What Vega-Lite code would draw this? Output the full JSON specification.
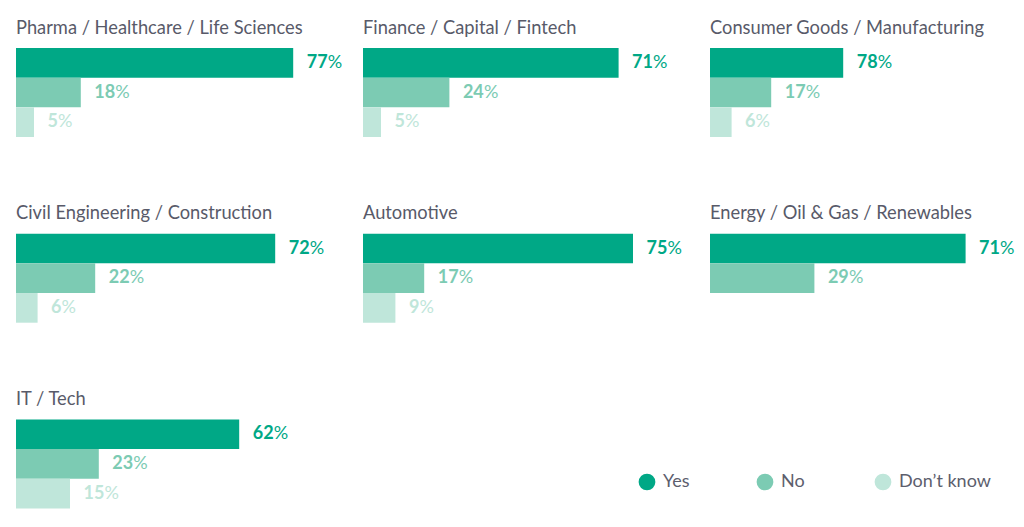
{
  "$schema": "https://vega.github.io/schema/vega-lite/v6.json",
  "background": "white",
  "padding": {"left": 16, "top": 18, "right": 0, "bottom": 0},
  "bounds": "flush",
  "config": {"view": {"stroke": null}, "font": "Lato"},
  "data": {
    "values": [
      {"sector": "Pharma / Healthcare / Life Sciences", "answer": "Yes", "pct": 77, "bar": 77},
      {"sector": "Pharma / Healthcare / Life Sciences", "answer": "No", "pct": 18, "bar": 18},
      {"sector": "Pharma / Healthcare / Life Sciences", "answer": "Don’t know", "pct": 5, "bar": 5},
      {"sector": "Finance / Capital / Fintech", "answer": "Yes", "pct": 71, "bar": 71},
      {"sector": "Finance / Capital / Fintech", "answer": "No", "pct": 24, "bar": 24},
      {"sector": "Finance / Capital / Fintech", "answer": "Don’t know", "pct": 5, "bar": 5},
      {"sector": "Consumer Goods / Manufacturing", "answer": "Yes", "pct": 78, "bar": 37},
      {"sector": "Consumer Goods / Manufacturing", "answer": "No", "pct": 17, "bar": 17},
      {"sector": "Consumer Goods / Manufacturing", "answer": "Don’t know", "pct": 6, "bar": 6},
      {"sector": "Civil Engineering / Construction", "answer": "Yes", "pct": 72, "bar": 72},
      {"sector": "Civil Engineering / Construction", "answer": "No", "pct": 22, "bar": 22},
      {"sector": "Civil Engineering / Construction", "answer": "Don’t know", "pct": 6, "bar": 6},
      {"sector": "Automotive", "answer": "Yes", "pct": 75, "bar": 75},
      {"sector": "Automotive", "answer": "No", "pct": 17, "bar": 17},
      {"sector": "Automotive", "answer": "Don’t know", "pct": 9, "bar": 9},
      {"sector": "Energy / Oil & Gas / Renewables", "answer": "Yes", "pct": 71, "bar": 71},
      {"sector": "Energy / Oil & Gas / Renewables", "answer": "No", "pct": 29, "bar": 29},
      {"sector": "IT / Tech", "answer": "Yes", "pct": 62, "bar": 62},
      {"sector": "IT / Tech", "answer": "No", "pct": 23, "bar": 23},
      {"sector": "IT / Tech", "answer": "Don’t know", "pct": 15, "bar": 15}
    ]
  },
  "facet": {
    "field": "sector",
    "type": "nominal",
    "sort": [
      "Pharma / Healthcare / Life Sciences",
      "Finance / Capital / Fintech",
      "Consumer Goods / Manufacturing",
      "Civil Engineering / Construction",
      "Automotive",
      "Energy / Oil & Gas / Renewables",
      "IT / Tech"
    ],
    "header": {
      "title": null,
      "labelAnchor": "start",
      "labelAlign": "left",
      "labelBaseline": "alphabetic",
      "labelFont": "Lato",
      "labelFontSize": 18.3,
      "labelColor": "#585a69",
      "labelPadding": -4
    }
  },
  "columns": 3,
  "spacing": {"column": 59, "row": 96.7},
  "spec": {
    "width": 288,
    "height": 89,
    "encoding": {
      "y": {
        "field": "answer",
        "type": "nominal",
        "scale": {"domain": ["Yes", "No", "Don’t know"], "paddingInner": 0, "paddingOuter": 0},
        "axis": null
      },
      "x": {
        "field": "bar",
        "type": "quantitative",
        "scale": {"domain": [0, 80], "nice": false, "zero": true},
        "axis": null
      },
      "color": {
        "field": "answer",
        "type": "nominal",
        "scale": {"domain": ["Yes", "No", "Don’t know"], "range": ["#00a886", "#7ccbb3", "#bfe6da"]},
        "legend": {
          "title": null,
          "orient": "none",
          "legendX": 622,
          "legendY": 425,
          "direction": "horizontal",
          "gridAlign": "all",
          "columnPadding": 1,
          "symbolType": "circle",
          "symbolSize": 279,
          "symbolStrokeWidth": 0,
          "symbolOpacity": 1,
          "labelFont": "Lato",
          "labelFontSize": 18,
          "labelColor": "#5c5e6d",
          "labelOffset": 7
        }
      }
    },
    "layer": [
      {"mark": {"type": "bar", "opacity": 1}},
      {
        "mark": {"type": "text", "align": "left", "baseline": "middle", "dx": 13.5, "fontWeight": "bold", "fontSize": 18, "font": "Lato"},
        "encoding": {"text": {"field": "pct", "type": "quantitative"}}
      },
      {
        "transform": [{"filter": "datum.pct >= 10"}],
        "mark": {"type": "text", "align": "left", "baseline": "middle", "dx": 34.5, "fontWeight": "normal", "fontSize": 18, "font": "Lato"},
        "encoding": {"text": {"value": "%"}}
      },
      {
        "transform": [{"filter": "datum.pct < 10"}],
        "mark": {"type": "text", "align": "left", "baseline": "middle", "dx": 24, "fontWeight": "normal", "fontSize": 18, "font": "Lato"},
        "encoding": {"text": {"value": "%"}}
      }
    ]
  }
}
